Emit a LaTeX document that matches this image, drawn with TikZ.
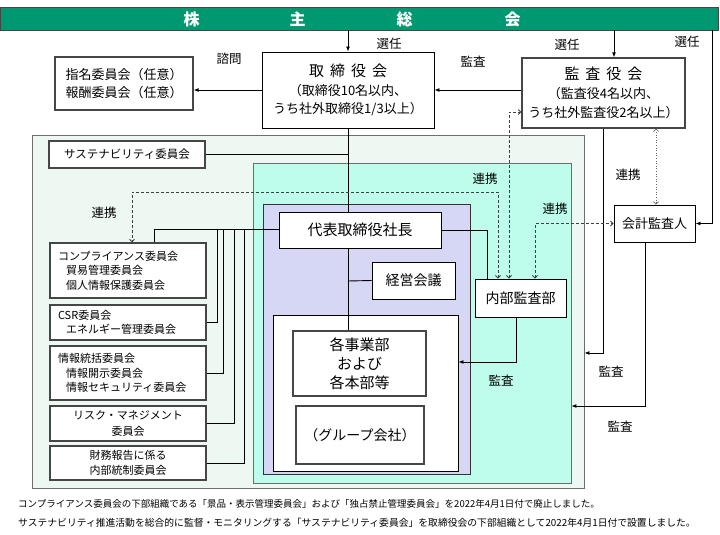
\documentclass[tikz,border=0pt]{standalone}
\usepackage{fontspec}
\setmainfont{Noto Sans CJK JP}
\usetikzlibrary{arrows.meta}
\definecolor{bannergreen}{RGB}{0,152,112}
\definecolor{outerbg}{RGB}{238,248,242}
\definecolor{cyanbg}{RGB}{190,253,235}
\definecolor{lavbg}{RGB}{214,214,245}
\definecolor{boxgray}{RGB}{70,70,70}
\definecolor{regiongray}{RGB}{110,110,110}
\newcommand{\myfs}[2]{\fontsize{#1}{#2}\selectfont}
\begin{document}
\begin{tikzpicture}[x=1pt,y=-1pt,
  box/.style={draw=boxgray, line width=1.3pt, fill=white, inner sep=0pt, align=center},
  mbox/.style={draw=black, line width=0.9pt, fill=white, inner sep=0pt, align=center},
  cbox/.style={draw=boxgray, line width=1.3pt, fill=white, inner xsep=8pt, inner ysep=0pt, text width=140pt, align=left, minimum height=#1, font=\myfs{11}{14.5}},
  ccbox/.style={draw=boxgray, line width=1.3pt, fill=white, inner sep=0pt, minimum width=156pt, align=center, minimum height=#1, font=\myfs{11}{15.5}},
  region/.style={draw=regiongray, line width=0.8pt, inner sep=0pt},
  conn/.style={line width=0.9pt, draw=black},
  arr/.style={conn, -{Latex[length=5pt,width=4pt]}},
  dsh/.style={dash pattern=on 3pt off 2pt, line width=0.8pt, draw=black!75, {Straight Barb[length=2.5pt,width=5pt]}-{Straight Barb[length=2.5pt,width=5pt]}},
  dotl/.style={dotted, line width=0.6pt, draw=black!60, {Straight Barb[length=2.5pt,width=5pt]}-{Straight Barb[length=2.5pt,width=5pt]}},
  lbl/.style={font=\myfs{12.5}{14}, inner sep=0pt},
]
\useasboundingbox (0,0) rectangle (720,535);
\fill[white] (0,0) rectangle (720,535);

% regions
\node[region, fill=outerbg, minimum width=552pt, minimum height=353pt] (outer) at (308,311.5) {};
\node[region, fill=cyanbg, minimum width=318pt, minimum height=320pt] (cyanreg) at (412,323) {};
\node[region, fill=lavbg, draw=black!80, minimum width=207pt, minimum height=270pt] (lavreg) at (366.5,339) {};
\node[region, fill=white, draw=black, line width=0.9pt, minimum width=185pt, minimum height=156pt] (bu) at (365.5,393) {};

% banner
\node[region, fill=bannergreen, draw=boxgray, minimum width=718pt, minimum height=23pt] (banner) at (359,18.5) {};
\node[text=white, font=\bfseries\myfs{16}{16}, inner sep=0pt] (bannertext) at (352,19) {株\hspace{90pt}主\hspace{91pt}総\hspace{92pt}会};

% top boxes
\node[mbox, minimum width=172pt, minimum height=76pt, font=\myfs{13}{18.5}] (tor) at (348,90)
  {{\myfs{15}{18.5}取\hspace{6pt}締\hspace{6pt}役\hspace{6pt}会}\\（取締役10名以内、\\うち社外取締役1/3以上）};
\node[box, minimum width=138pt, minimum height=53pt, font=\myfs{13}{18}] (shimei) at (124,83.5)
  {指名委員会（任意）\\報酬委員会（任意）};
\node[box, minimum width=163pt, minimum height=70pt, font=\myfs{13}{19}] (kansayaku) at (603.5,93)
  {{\myfs{15}{19}監\hspace{6pt}査\hspace{6pt}役\hspace{6pt}会}\\（監査役4名以内、\\うち社外監査役2名以上）};

% inner boxes
\node[box, minimum width=156pt, minimum height=27pt, font=\myfs{11.5}{14}] (sustain) at (127,154.5) {サステナビリティ委員会};
\node[mbox, minimum width=162pt, minimum height=36pt, font=\myfs{15}{18}] (ceo) at (360,230) {代表取締役社長};
\node[mbox, minimum width=83pt, minimum height=37pt, font=\myfs{14}{17}] (keiei) at (413.5,280.5) {経営会議};
\node[box, minimum width=133pt, minimum height=65pt, font=\myfs{15}{19}] (jigyo) at (359.5,363.5) {各事業部\\および\\各本部等};
\node[box, minimum width=128pt, minimum height=58pt, font=\myfs{14}{17}] (group) at (360,435) {（グループ会社）};
\node[mbox, minimum width=91pt, minimum height=38pt, font=\myfs{14}{17}] (naibu) at (520.5,298) {内部監査部};
\node[mbox, minimum width=81pt, minimum height=37pt, font=\myfs{13}{16}] (kaikei) at (654.5,223.5) {会計監査人};

% committees
\node[cbox=55pt] (comp) at (128,270.5) {コンプライアンス委員会\\\hspace*{8pt}貿易管理委員会\\\hspace*{8pt}個人情報保護委員会};
\node[cbox=35pt] (csr) at (128,322.5) {CSR委員会\\\hspace*{8pt}エネルギー管理委員会};
\node[cbox=54pt] (joho) at (128,373) {情報統括委員会\\\hspace*{8pt}情報開示委員会\\\hspace*{8pt}情報セキュリティ委員会};
\node[ccbox=35pt] (risk) at (128,423.5) {リスク・マネジメント\\委員会};
\node[ccbox=34pt] (zaimu) at (128,463) {財務報告に係る\\内部統制委員会};

% coordinates
\coordinate (ks) at (614,0);
\coordinate (x348) at (348,0);
\coordinate (v0) at (154,229);
\coordinate (v1) at (217,229);
\coordinate (v2) at (223,229);
\coordinate (v3) at (234,229);
\coordinate (v4) at (244,229);
\coordinate (c1) at (487,230);
\coordinate (n1) at (516,362);
\coordinate (k1) at (603.5,353);
\coordinate (a1) at (645,406);
\coordinate (b3) at (712,223.5);
\coordinate (d1) at (535,223.5);
\coordinate (d2) at (509,112);
\coordinate (d3a) at (498,192);
\coordinate (d3b) at (132,192);
\coordinate (dt) at (656,0);
\coordinate (km) at (348,281);

% solid connectors
\draw[arr] (tor.north |- banner.south) -- (tor.north);
\draw[arr] (ks |- banner.south) -- (ks |- kansayaku.north);
\draw[arr] (b3 |- banner.south) -- (b3) -- (kaikei.east);
\draw[arr] (tor.west) -- (tor.west -| shimei.east);
\draw[arr] (kansayaku.west |- tor.west) -- (tor.east);
\draw[conn] (tor.south) -- (x348 |- ceo.north);
\draw[conn] (sustain.east) -- (sustain.east -| x348);
\draw[conn] (x348 |- ceo.south) -- (x348 |- jigyo.north);
\draw[conn] (km) -- (keiei.west);
\draw[conn] (ceo.east |- c1) -- (c1) -- (c1 |- naibu.north);
\draw[arr] (naibu.south -| n1) -- (n1) -- (n1 -| bu.east);
\draw[arr] (kansayaku.south) -- (k1) -- (k1 -| outer.east);
\draw[arr] (kaikei.south -| a1) -- (a1) -- (a1 -| cyanreg.east);
\draw[conn] (ceo.west |- v0) -- (v0) -- (v0 |- comp.north);
\draw[conn] (csr.east) -| (v1);
\draw[conn] (joho.east) -| (v2);
\draw[conn] (risk.east) -| (v3);
\draw[conn] (zaimu.east) -| (v4);

% dashed / dotted
\draw[dsh] (d1 |- naibu.north) -- (d1) -- (kaikei.west);
\draw[dsh] (d2 |- naibu.north) -- (d2) -- (d2 -| kansayaku.west);
\draw[dsh] (d3a |- naibu.north) -- (d3a) -- (d3b) -- (d3b |- comp.north);
\draw[dotl] (dt |- kansayaku.south) -- (dt |- kaikei.north);

% labels
\node[lbl] (sen1) at (389,44) {選任};
\node[lbl] (sen2) at (567,45) {選任};
\node[lbl] (sen3) at (687,42) {選任};
\node[lbl] (shimon) at (229,59) {諮問};
\node[lbl] (kan1) at (473,62) {監査};
\node[lbl] (ren1) at (104,213) {連携};
\node[lbl] (ren2) at (485,179) {連携};
\node[lbl] (ren3) at (555,209) {連携};
\node[lbl] (ren4) at (628,175) {連携};
\node[lbl] (kan2) at (501,381) {監査};
\node[lbl] (kan3) at (611,372) {監査};
\node[lbl] (kan4) at (620,427) {監査};

% footnotes
\node[anchor=west, inner sep=0pt, font=\myfs{9.5}{10}] (fn1) at (18,504) {コンプライアンス委員会の下部組織である「景品・表示管理委員会」および「独占禁止管理委員会」を2022年4月1日付で廃止しました。};
\node[anchor=west, inner sep=0pt, font=\myfs{9.8}{10}] (fn2) at (18,523) {サステナビリティ推進活動を総合的に監督・モニタリングする「サステナビリティ委員会」を取締役会の下部組織として2022年4月1日付で設置しました。};
\end{tikzpicture}
\end{document}
